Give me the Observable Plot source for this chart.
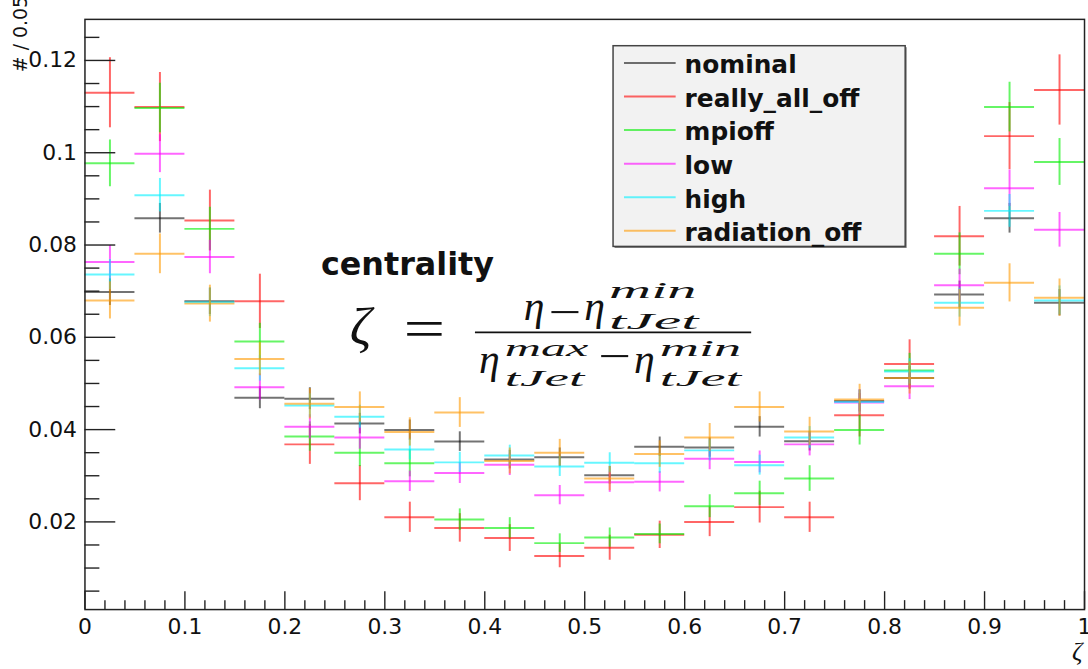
<!DOCTYPE html>
<html>
<head>
<meta charset="utf-8">
<script src="https://cdn.jsdelivr.net/npm/d3@7"></script>
<script src="https://cdn.jsdelivr.net/npm/@observablehq/plot@0.6"></script>
<style>
  html, body { margin: 0; padding: 0; background: #fff; overflow: hidden; }
  #chart svg { display: block; }
</style>
</head>
<body>
<div id="chart"></div>
<script>
// Centrality distribution, 20 bins of width 0.05, each histogram normalised to unit area
const binCenters = [0.025, 0.075, 0.125, 0.175, 0.225, 0.275, 0.325, 0.375, 0.425, 0.475,
                    0.525, 0.575, 0.625, 0.675, 0.725, 0.775, 0.825, 0.875, 0.925, 0.975];
const binWidth = 0.05;

const nominal      = [0.0698, 0.0858, 0.0678, 0.0469, 0.0467, 0.0413, 0.0399, 0.0374, 0.0335, 0.0340,
                      0.0301, 0.0363, 0.0361, 0.0406, 0.0375, 0.0462, 0.0512, 0.0693, 0.0858, 0.0675];
const reallyAllOff = [0.1130, 0.1099, 0.0853, 0.0678, 0.0368, 0.0284, 0.0210, 0.0187, 0.0165, 0.0126,
                      0.0144, 0.0172, 0.0200, 0.0232, 0.0210, 0.0431, 0.0542, 0.0819, 0.1036, 0.1136];
const mpiOff       = [0.0977, 0.1097, 0.0835, 0.0591, 0.0385, 0.0350, 0.0327, 0.0205, 0.0187, 0.0154,
                      0.0166, 0.0174, 0.0234, 0.0262, 0.0294, 0.0399, 0.0528, 0.0781, 0.1099, 0.0980];
const low          = [0.0763, 0.0998, 0.0774, 0.0492, 0.0406, 0.0383, 0.0288, 0.0306, 0.0324, 0.0258,
                      0.0286, 0.0287, 0.0337, 0.0330, 0.0368, 0.0459, 0.0494, 0.0713, 0.0923, 0.0833];
const high         = [0.0736, 0.0908, 0.0676, 0.0533, 0.0452, 0.0428, 0.0357, 0.0329, 0.0344, 0.0320,
                      0.0328, 0.0327, 0.0355, 0.0323, 0.0383, 0.0460, 0.0526, 0.0675, 0.0874, 0.0680];
const radiationOff = [0.0680, 0.0781, 0.0673, 0.0553, 0.0456, 0.0449, 0.0395, 0.0437, 0.0332, 0.0350,
                      0.0294, 0.0347, 0.0383, 0.0449, 0.0396, 0.0465, 0.0512, 0.0664, 0.0718, 0.0686];

const seriesNames  = ["nominal", "really_all_off", "mpioff", "low", "high", "radiation_off"];
const seriesValues = [nominal, reallyAllOff, mpiOff, low, high, radiationOff];
const seriesColors = ["#000000", "#ff0000", "#00ee00", "#ff00ff", "#00f0ff", "#ff9900"];
// number of entries per sample; the statistical error of a bin is sqrt(content / entries)
const seriesEntries = [8300, 1960, 3800, 5900, 6900, 4200];

const xTicks = [0, 0.1, 0.2, 0.3, 0.4, 0.5, 0.6, 0.7, 0.8, 0.9, 1];
const yTicks = [0.02, 0.04, 0.06, 0.08, 0.1, 0.12];
const xMinorTicks = d3.range(0, 51).map(i => i * 0.02).filter(v => Math.abs(v * 10 - Math.round(v * 10)) > 1e-6 && v <= 1);
const yMinorTicks = d3.range(1, 26).map(i => i * 0.005).filter(v => Math.abs(v * 50 - Math.round(v * 50)) > 1e-6);

const rows = seriesNames.map((name, i) => seriesValues[i].map((v, j) => ({
  series: name,
  c: binCenters[j],
  lo: binCenters[j] - binWidth / 2,
  hi: binCenters[j] + binWidth / 2,
  v,
  err: Math.sqrt(v / seriesEntries[i])
})));

const histMarks = [];
rows.forEach((data, i) => {
  const style = {stroke: seriesColors[i], strokeOpacity: i === 0 ? 0.55 : 0.6, strokeWidth: 2};
  histMarks.push(Plot.ruleY(data, {y: "v", x1: "lo", x2: "hi", ...style}));
  histMarks.push(Plot.ruleX(data, {x: "c", y1: d => d.v - d.err, y2: d => d.v + d.err, ...style}));
});

const plot = Plot.plot({
  width: 1095,
  height: 669,
  marginLeft: 85,
  marginRight: 4,
  marginTop: 19,
  marginBottom: 56,
  style: {fontFamily: "'DejaVu Sans', sans-serif", background: "#fff", color: "#111"},
  x: {domain: [0, 1], axis: null},
  y: {domain: [0.001, 0.1289], axis: null},
  marks: [
    ...histMarks,
    Plot.frame({stroke: "#222", strokeWidth: 1.5}),
    Plot.axisX(xTicks, {tickSize: -18, tickFormat: () => "", stroke: "#222", strokeWidth: 1.4, label: null}),
    Plot.axisX(xMinorTicks, {tickSize: -9, tickFormat: () => "", stroke: "#222", strokeWidth: 1.4, label: null}),
    Plot.axisX(xTicks, {tickSize: 0, tickPadding: 9, fontSize: 22, tickFormat: d => String(+d.toFixed(1)), label: null}),
    Plot.axisY(yTicks, {tickSize: -31, tickFormat: () => "", stroke: "#222", strokeWidth: 1.4, label: null}),
    Plot.axisY(yMinorTicks, {tickSize: -15, tickFormat: () => "", stroke: "#222", strokeWidth: 1.4, label: null}),
    Plot.axisY(yTicks, {tickSize: 0, tickPadding: 8, fontSize: 22, tickFormat: d => String(+d.toFixed(2)), label: null})
  ]
});

document.getElementById("chart").appendChild(plot);

const svg = d3.select(plot);

// axis titles
svg.append("text")
  .attr("transform", "translate(27,-4) rotate(-90)")
  .attr("text-anchor", "end")
  .attr("font-family", "'DejaVu Sans', sans-serif")
  .attr("font-size", 19)
  .attr("fill", "#111")
  .text("# / 0.05");
svg.append("text")
  .attr("x", 1079).attr("y", 664)
  .attr("text-anchor", "start")
  .attr("font-family", "'Liberation Serif', serif")
  .attr("font-style", "italic")
  .attr("font-size", 26)
  .attr("fill", "#111")
  .text("ζ");

// legend
const leg = svg.append("g").attr("text-anchor", "start");
leg.append("rect").attr("x", 618.5).attr("y", 47.5).attr("width", 294).attr("height", 202).attr("fill", "#777");
leg.append("rect").attr("x", 617).attr("y", 46).attr("width", 294).attr("height", 202)
  .attr("fill", "#f2f2f2").attr("stroke", "#444").attr("stroke-width", 1.5);
seriesNames.forEach((name, i) => {
  const yLine = 63.3 + i * 33.8;
  leg.append("line").attr("x1", 628).attr("x2", 680).attr("y1", yLine).attr("y2", yLine)
    .attr("stroke", seriesColors[i]).attr("stroke-opacity", i === 0 ? 0.55 : 0.6).attr("stroke-width", 2);
  leg.append("text").attr("x", 689).attr("y", yLine + 10.5)
    .attr("font-family", "'DejaVu Sans', sans-serif").attr("font-weight", "bold")
    .attr("font-size", 25).attr("fill", "#111").text(name);
});

// centrality definition
const note = svg.append("g").attr("fill", "#111").attr("text-anchor", "start");
note.append("text").attr("x", 323).attr("y", 277)
  .attr("font-family", "'DejaVu Sans', sans-serif").attr("font-weight", "bold")
  .attr("font-size", 32).text("centrality");

const serif = "'Liberation Serif', 'DejaVu Serif', serif";
function piece(x, y, size, str, opts = {}) {
  const t = note.append("text").attr("x", x).attr("y", y)
    .attr("font-family", serif).attr("font-size", size)
    .attr("font-style", opts.upright ? "normal" : "italic").text(str);
  if (opts.len) t.attr("textLength", opts.len).attr("lengthAdjust", "spacingAndGlyphs");
  return t;
}
const scriptSize = 24;
piece(352, 346, 54, "ζ");
piece(406, 349, 56, "=", {upright: true, len: 42});
// numerator
piece(527, 322, 42, "η");
piece(552, 328, 42, "−", {upright: true, len: 33});
piece(588, 322, 42, "η");
piece(613, 300, scriptSize, "min", {len: 88});
piece(613, 331, scriptSize, "tJet", {len: 90});
// fraction bar
note.append("line").attr("x1", 478).attr("x2", 756).attr("y1", 334.5).attr("y2", 334.5)
  .attr("stroke", "#111").attr("stroke-width", 1.6);
// denominator
piece(482, 375, 42, "η");
piece(508, 358, scriptSize, "max", {len: 84});
piece(508, 388, scriptSize, "tJet", {len: 80});
piece(602, 372, 42, "−", {upright: true, len: 33});
piece(638, 375, 42, "η");
piece(664, 358, scriptSize, "min", {len: 82});
piece(664, 388, scriptSize, "tJet", {len: 82});
</script>
</body>
</html>
